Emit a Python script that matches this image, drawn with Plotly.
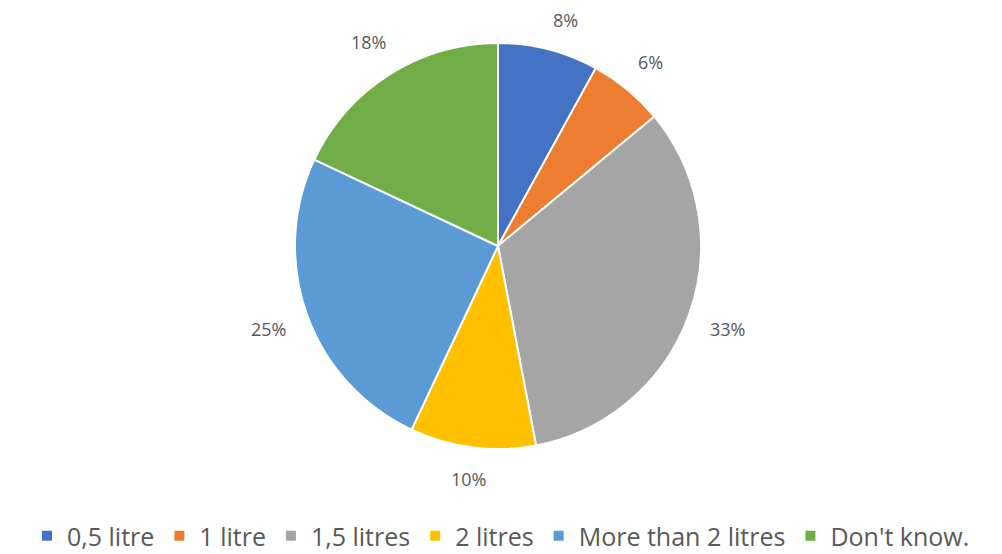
import math
import plotly.graph_objects as go

# Survey answers and their shares (percent)
categories = ["0,5 litre", "1 litre", "1,5 litres", "2 litres", "More than 2 litres", "Don't know."]
shares = [8, 6, 33, 10, 25, 18]
colors = ["#4472C4", "#ED7D31", "#A5A5A5", "#FFC000", "#5B9BD5", "#70AD47"]

W, H = 1002, 554
MB = 42                     # bottom margin kept for the legend band
HP = H - MB                 # height of the paper area

# Pie placed so its rim spans y = 43..449 px and centre x = 498 px
pie_top, pie_bottom = 43, 449
dom_x = [0.0, 0.994]
dom_y = [1 - pie_bottom / HP, 1 - pie_top / HP]

fig = go.Figure(go.Pie(
    labels=categories,
    values=shares,
    marker=dict(colors=colors, line=dict(color="white", width=2)),
    sort=False,
    direction="clockwise",
    rotation=0,
    textinfo="none",
    hoverinfo="label+percent",
    domain=dict(x=dom_x, y=dom_y),
))

# Percentage labels outside the pie: each label box keeps a fixed gap from the
# rim along its slice's mid-angle; one that would rise above the top band
# slides along its ring instead.
cx_px = (dom_x[0] + dom_x[1]) / 2 * W
cy_px = (pie_top + pie_bottom) / 2
radius_px = (pie_bottom - pie_top) / 2
gap = 21
digit_w, pct_w, half_h = 10.3, 14.8, 9
top_limit = 20
total = sum(shares)
cum = 0
annotations = []
for v in shares:
    text = f"{round(v / total * 100)}%"
    half_w = (digit_w * (len(text) - 1) + pct_w) / 2
    mid = (cum + v / 2) / total * 2 * math.pi
    cum += v
    s, c = math.sin(mid), math.cos(mid)
    r = radius_px + gap + abs(half_w * s) + abs(half_h * c)
    dx, dy = r * s, r * c
    if cy_px - dy < top_limit:
        dy = cy_px - top_limit
        dx = math.copysign(math.sqrt(r ** 2 - dy ** 2), dx)
    annotations.append(dict(
        x=(cx_px + dx) / W,
        y=1 - (cy_px - dy) / HP,
        xref="paper", yref="paper",
        text=text,
        showarrow=False,
        xanchor="center", yanchor="middle",
        font=dict(family="Open Sans", size=18, color="#595959"),
    ))

fig.update_layout(
    width=W, height=H,
    margin=dict(l=0, r=0, t=0, b=MB),
    paper_bgcolor="white",
    plot_bgcolor="white",
    annotations=annotations,
    showlegend=True,
    legend=dict(
        orientation="h",
        xref="container", yref="container",
        x=0.5, xanchor="center",
        y=1 - 536 / H, yanchor="middle",
        font=dict(family="Open Sans", size=25, color="#595959"),
        traceorder="normal",
    ),
)

fig.write_html("out.html")
